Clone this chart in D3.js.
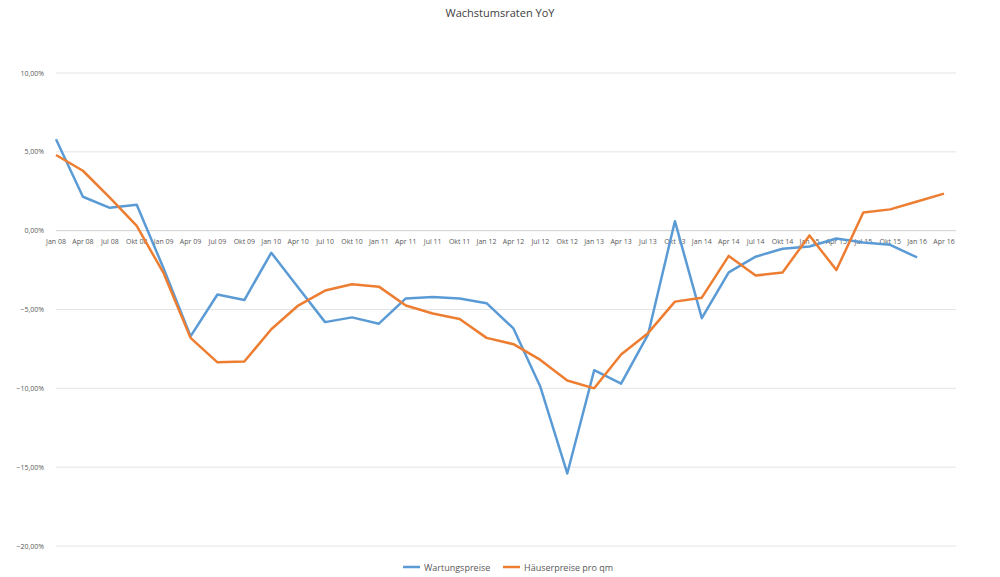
<!DOCTYPE html>
<html><head><meta charset="utf-8">
<script src="https://cdn.jsdelivr.net/npm/d3@7"></script>
<style>body{margin:0;background:#fff}text{font-family:"Open Sans",sans-serif}</style>
</head><body>
<script>
const labels = ["Jan 08","Apr 08","Jul 08","Okt 08","Jan 09","Apr 09","Jul 09","Okt 09","Jan 10","Apr 10","Jul 10","Okt 10","Jan 11","Apr 11","Jul 11","Okt 11","Jan 12","Apr 12","Jul 12","Okt 12","Jan 13","Apr 13","Jul 13","Okt 13","Jan 14","Apr 14","Jul 14","Okt 14","Jan 15","Apr 15","Jul 15","Okt 15","Jan 16","Apr 16"];
const wartung = [5.8,2.15,1.45,1.65,-2.4,-6.7,-4.05,-4.4,-1.4,-3.6,-5.8,-5.5,-5.9,-4.3,-4.2,-4.3,-4.6,-6.2,-9.9,-15.4,-8.85,-9.7,-6.6,0.6,-5.55,-2.65,-1.65,-1.15,-1.0,-0.5,-0.75,-0.9,-1.7,null];
const haeuser = [4.8,3.8,2.1,0.3,-2.7,-6.8,-8.35,-8.3,-6.25,-4.75,-3.8,-3.4,-3.55,-4.75,-5.25,-5.6,-6.8,-7.2,-8.2,-9.5,-10.0,-7.85,-6.5,-4.5,-4.25,-1.6,-2.85,-2.65,-0.3,-2.5,1.15,1.35,1.85,2.35];
const yTicks = [10,5,0,-5,-10,-15,-20];

const W = 1000, H = 577;
const svg = d3.select("body").append("svg").attr("width", W).attr("height", H);
const x = d3.scalePoint().domain(labels).range([56, 944]);
const y = d3.scaleLinear().domain([-20, 10]).range([546, 73]);
const fmt = v => d3.format(".2f")(v).replace(".", ",") + "%";

svg.append("text").attr("x", 500).attr("y", 17).attr("text-anchor", "middle")
  .attr("font-size", 11).attr("fill", "#404040").text("Wachstumsraten YoY");

svg.append("g").selectAll("line").data(yTicks).join("line")
  .attr("x1", 56).attr("x2", 956).attr("y1", d => y(d)).attr("y2", d => y(d))
  .attr("stroke", d => d === 0 ? "#d0d0d0" : "#e4e4e4").attr("stroke-width", 1);

svg.append("g").selectAll("text").data(yTicks).join("text")
  .attr("x", 44).attr("y", d => y(d) + 2.5).attr("text-anchor", "end")
  .attr("font-size", 7).attr("fill", "#595959").text(fmt);

svg.append("g").selectAll("text").data(labels).join("text")
  .attr("x", d => x(d)).attr("y", y(0) + 13).attr("text-anchor", "middle")
  .attr("font-size", 7).attr("fill", "#595959").text(d => d);

const line = d3.line().defined(d => d != null).x((d, i) => x(labels[i])).y(d => y(d));
const series = [{name: "Wartungspreise", data: wartung, color: "#5B9BD5"},
                {name: "Häuserpreise pro qm", data: haeuser, color: "#ED7D31"}];
series.forEach(s => {
  svg.append("path").attr("d", line(s.data)).attr("fill", "none")
    .attr("stroke", s.color).attr("stroke-width", 2.5).attr("stroke-linejoin", "round");
});

const lg = svg.append("g");
[[403, 0], [503, 1]].forEach(([lx, i]) => {
  lg.append("line").attr("x1", lx).attr("x2", lx + 17).attr("y1", 567).attr("y2", 567)
    .attr("stroke", series[i].color).attr("stroke-width", 2.5);
  lg.append("text").attr("x", lx + 21).attr("y", 570.5).attr("font-size", 9)
    .attr("fill", "#595959").text(series[i].name);
});
</script>
</body></html>
